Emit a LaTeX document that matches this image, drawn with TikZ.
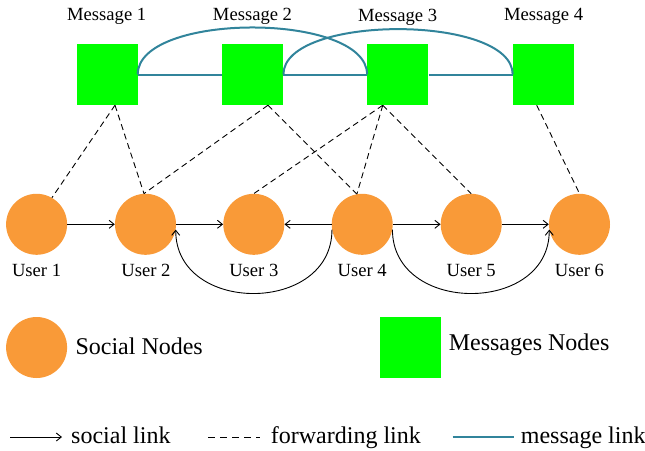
\documentclass[tikz,border=0pt]{standalone}
\usepackage{fontspec}
\setmainfont{Liberation Serif}
\usetikzlibrary{arrows.meta,calc}
\definecolor{userorange}{HTML}{F99A38}
\definecolor{msggreen}{HTML}{00FF00}
\definecolor{msgteal}{HTML}{31849B}
\begin{document}
\begin{tikzpicture}[x=1pt,y=-1pt,
  user/.style={circle,fill=userorange,draw=none,minimum size=61pt,inner sep=0pt},
  msg/.style={rectangle,fill=msggreen,draw=none,minimum size=61pt,inner sep=0pt},
  lbl/.style={anchor=base,inner sep=0pt,font=\fontsize{18.6}{20}\selectfont},
  leg/.style={anchor=base west,inner sep=0pt,font=\fontsize{24}{26}\selectfont},
  social/.style={line width=0.9pt,-{Straight Barb[length=5pt,width=8pt]}},
  fwd/.style={line width=0.9pt,dash pattern=on 6pt off 4pt},
  mlink/.style={line width=2pt,draw=msgteal}]
\useasboundingbox (0,0) rectangle (645,450);
% message nodes
\node[msg] (m1) at (107,74.5) {};
\node[msg] (m2) at (252.7,74.5) {};
\node[msg] (m3) at (397.8,74.5) {};
\node[msg] (m4) at (543.4,74.5) {};
\node[lbl] (ml1) at (106.7,20) {Message 1};
\node[lbl] (ml2) at (252.5,20) {Message 2};
\node[lbl] (ml3) at (397.6,21.5) {Message 3};
\node[lbl] (ml4) at (543.6,20) {Message 4};
% user nodes
\node[user] (u1) at (36.6,224.3) {};
\node[user] (u2) at (145.5,224.3) {};
\node[user] (u3) at (253.8,224.3) {};
\node[user] (u4) at (362.2,224.3) {};
\node[user] (u5) at (471.2,224.3) {};
\node[user] (u6) at (579.5,224.3) {};
\node[lbl] (ul1) at (36.6,276) {User 1};
\node[lbl] (ul2) at (146,276) {User 2};
\node[lbl] (ul3) at (253.8,276) {User 3};
\node[lbl] (ul4) at (362.2,276) {User 4};
\node[lbl] (ul5) at (471.2,276) {User 5};
\node[lbl] (ul6) at (579.5,276) {User 6};
% message links
\draw[mlink] (m1.east) -- (m2.west);
\draw[mlink] (m2.east) -- (m3.west);
\draw[mlink] (m3.east) -- (m4.west);
\draw[mlink] (m1.east) .. controls +(0,-62.7) and +(0,-62.7) .. (m3.west);
\draw[mlink] (m2.east) .. controls +(0,-60.5) and +(0,-60.5) .. (m4.west);
% forwarding links
\draw[fwd] ($(m1.south)+(8,0)$) -- (u1.60);
\draw[fwd] ($(m1.south)+(8,0)$) -- ($(u2.north)+(-1.5,0)$);
\draw[fwd] ($(m2.south)+(15.3,0)$) -- ($(u2.north)+(-1.5,0)$);
\draw[fwd] ($(m2.south)+(15.3,0)$) -- (u4.100);
\draw[fwd] ($(m3.south)+(-15,0)$) -- (u3.north);
\draw[fwd] ($(m3.south)+(-15,0)$) -- (u4.100);
\draw[fwd] ($(m3.south)+(-15,0)$) -- (u5.north);
\draw[fwd] ($(m4.south)+(-6.7,0)$) -- (u6.north);
% social links
\draw[social] (u1.east) -- (u2.west);
\draw[social] (u2.east) -- (u3.west);
\draw[social] (u4.west) -- (u3.east);
\draw[social] (u4.east) -- (u5.west);
\draw[social] (u5.east) -- (u6.west);
\draw[social] (u4.190) .. controls +(0,85) and +(0,85) .. (u2.350);
\draw[social] (u4.350) .. controls +(0,85) and +(0,85) .. (u6.190);
% legend
\node[user] (lu) at (36.6,347.5) {};
\node[leg] (lut) at (75.3,354.3) {Social Nodes};
\node[msg] (lm) at (410,347.5) {};
\node[leg] (lmt) at (448.6,350) {Messages Nodes};
\coordinate (a1) at (10.3,437);
\coordinate (a2) at (62,437);
\draw[social] (a1) -- (a2);
\node[leg] (at) at (71,443.3) {social link};
\coordinate (d1) at (208,437);
\coordinate (d2) at (260,437);
\draw[line width=0.9pt,dash pattern=on 7pt off 5pt] (d1) -- (d2);
\node[leg] (dt) at (270.7,443.3) {forwarding link};
\coordinate (t1) at (452.5,437);
\coordinate (t2) at (513.6,437);
\draw[mlink,line width=2.6pt] (t1) -- (t2);
\node[leg] (tt) at (520.7,443.3) {message link};
\end{tikzpicture}
\end{document}
